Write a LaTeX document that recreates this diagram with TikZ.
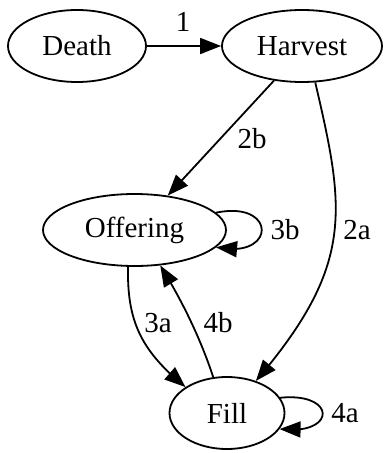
\documentclass[tikz,border=0pt]{standalone}
\usepackage{fontspec}
\setmainfont{Liberation Serif}
\newfontfamily\gvfont{Liberation Serif}
\usetikzlibrary{shapes.geometric,arrows.meta,bending}
\begin{document}
\begin{tikzpicture}[x=1pt,y=-1pt,
  st/.style={ellipse,draw,line width=1.8pt,inner sep=0pt,minimum height=72pt,font=\gvfont\fontsize{29}{31}\selectfont},
  arr/.style={line width=1.8pt,-{Triangle[length=21pt,width=16pt]}},
  lbl/.style={font=\gvfont\fontsize{29}{31}\selectfont,inner sep=0pt}]
\useasboundingbox (0,0) rectangle (385,453);
\node[st,minimum width=138pt] (death) at (77,46) {Death};
\node[st,minimum width=160pt] (harvest) at (302,46) {Harvest};
\node[st,minimum width=183pt] (off) at (134.5,230) {Offering};
\node[st,minimum width=115pt] (fill) at (227,413) {Fill};
\draw[arr] (death) -- (harvest);
\node[lbl] (l1) at (183,22) {1};
\draw[arr] (harvest.-129) -- (off.46);
\node[lbl] (l2b) at (252,139) {2b};
\draw[arr] (harvest.-70) .. controls (345,210) and (355,265) .. (fill.48);
\node[lbl] (l2a) at (357,230) {2a};
\draw[arr] (off.12) .. controls (277,200) and (277,260) .. (off.-12);
\node[lbl] (l3b) at (285,230) {3b};
\draw[arr] (off.-100) .. controls (127,320) and (140,350) .. (fill.148);
\node[lbl] (l3a) at (158,323) {3a};
\draw[arr] (fill.111) .. controls (201,340) and (183,302) .. (off.-54);
\node[lbl] (l4b) at (218,323) {4b};
\draw[arr] (fill.16) .. controls (337,392) and (337,436) .. (fill.-17);
\node[lbl] (l4a) at (345,413) {4a};
\end{tikzpicture}
\end{document}
